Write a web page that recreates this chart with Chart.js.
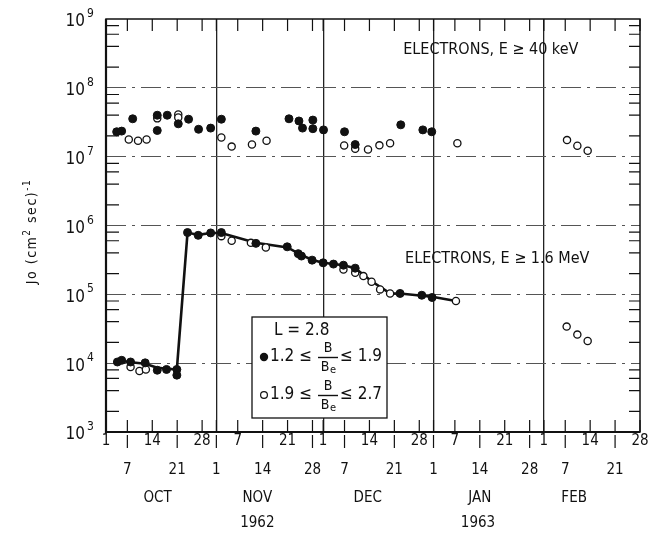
<!DOCTYPE html>
<html>
<head>
<meta charset="utf-8">
<title>Electron flux L=2.8</title>
<script src="https://cdn.jsdelivr.net/npm/chart.js@4.4.1/dist/chart.umd.min.js"></script>
<style>
  html, body { margin: 0; padding: 0; background: #fff; }
  canvas { display: block; }
</style>
</head>
<body>
<canvas id="flux" width="668" height="537"></canvas>
<script>
// x values are days counted from Oct 1 1962 (Oct 1 = 0, Nov 1 = 31, Dec 1 = 61, Jan 1 = 92, Feb 1 = 123)

// ELECTRONS, E >= 40 keV
var hiFilledDays = [3, 4.4, 7.5, 14.4, 14.4, 17.2, 20.3, 23.2, 26, 29.4, 32.4, 42.1, 51.4, 54.2, 55.2, 58.1, 58.1, 61.1, 67, 70, 82.8, 89, 91.5];
var hiFilledFlux = [2.3e7, 2.35e7, 3.55e7, 4.0e7, 2.4e7, 4.0e7, 3.0e7, 3.5e7, 2.5e7, 2.6e7, 3.5e7, 2.35e7, 3.55e7, 3.3e7, 2.6e7, 3.4e7, 2.55e7, 2.45e7, 2.3e7, 1.5e7, 2.9e7, 2.45e7, 2.3e7];
var hiOpenDays = [6.4, 9, 11.4, 14.4, 20.3, 20.3, 32.4, 35.3, 41, 45.1, 66.9, 70, 73.6, 76.8, 79.8, 98.7, 129.5, 132.4, 135.3];
var hiOpenFlux = [1.78e7, 1.7e7, 1.78e7, 3.6e7, 4.1e7, 3.7e7, 1.9e7, 1.4e7, 1.5e7, 1.7e7, 1.45e7, 1.3e7, 1.27e7, 1.46e7, 1.57e7, 1.57e7, 1.74e7, 1.44e7, 1.22e7];

// ELECTRONS, E >= 1.6 MeV
var loFilledDays = [3.2, 4.4, 6.9, 11, 14.4, 17, 19.9, 19.9, 22.9, 25.9, 29.4, 32.4, 42.1, 50.9, 54, 54.9, 57.9, 61, 63.9, 66.7, 70, 82.6, 88.7, 91.6];
var loFilledFlux = [1.04e4, 1.1e4, 1.04e4, 1.01e4, 7.9e3, 8.1e3, 8.1e3, 6.7e3, 7.9e5, 7.2e5, 7.8e5, 7.9e5, 5.5e5, 4.9e5, 3.9e5, 3.6e5, 3.14e5, 2.87e5, 2.75e5, 2.65e5, 2.4e5, 1.03e5, 9.7e4, 9.0e4];
var loOpenDays = [6.9, 9.4, 11.2, 32.4, 35.3, 40.7, 44.9, 66.7, 70, 72.3, 74.6, 77, 79.8, 98.3, 129.4, 132.4, 135.3];
var loOpenFlux = [8.8e3, 7.7e3, 8.1e3, 7.0e5, 6.0e5, 5.6e5, 4.8e5, 2.3e5, 2.06e5, 1.84e5, 1.52e5, 1.18e5, 1.03e5, 8.0e4, 3.4e4, 2.6e4, 2.1e4];

// hand drawn curve through the 1.6 MeV points
var curveDays = [3.2, 4.4, 7, 11, 14.4, 19.9, 22.9, 25.9, 29.4, 32.4, 42, 51, 54.5, 58, 61, 66.7, 70, 74.6, 79.8, 82.6, 91.6, 98.3];
var curveFlux = [1.05e4, 1.08e4, 1.03e4, 9.8e3, 8.6e3, 8.1e3, 7.9e5, 7.3e5, 7.8e5, 7.8e5, 5.6e5, 4.8e5, 3.8e5, 3.15e5, 2.87e5, 2.65e5, 2.4e5, 1.55e5, 1.03e5, 1.03e5, 9.2e4, 8.0e4];

// axis ticks
var tickDays = [0, 6, 13, 20, 27, 31, 37, 44, 51, 58, 61, 67, 74, 81, 88, 92, 98, 105, 112, 119, 123, 129, 136, 143, 150];
var tickText = ['1', '7', '14', '21', '28', '1', '7', '14', '21', '28', '1', '7', '14', '21', '28', '1', '7', '14', '21', '28', '1', '7', '14', '21', '28'];
var monthStarts = [31, 61, 92, 123];
var monthNames = ['OCT', 'NOV', 'DEC', 'JAN', 'FEB'];
var monthLabelDays = [14.5, 42.5, 73.5, 105, 131.5];
var yearNames = ['1962', '1963'];
var yearLabelDays = [42.5, 104.5];
var decades = [1e3, 1e4, 1e5, 1e6, 1e7, 1e8, 1e9];

var FONT = '"DejaVu Sans Condensed", "Liberation Sans Narrow", "DejaVu Sans", sans-serif';

function pairs(xs, ys) {
  return xs.map(function (x, i) { return { x: x, y: ys[i] }; });
}

// draws everything that is not a data mark: frame, inner ticks, labels, notes, key
var decorations = {
  id: 'decorations',
  afterDraw: function (chart) {
    var c = chart.ctx;
    var a = chart.chartArea;
    var xs = chart.scales.x;
    var ys = chart.scales.y;
    c.save();
    c.strokeStyle = '#111';
    c.fillStyle = '#111';

    // inner ticks top and bottom, outer ticks for the second label row
    c.lineWidth = 1.2;
    tickDays.forEach(function (d, i) {
      var px = xs.getPixelForValue(d);
      c.beginPath();
      c.moveTo(px, a.top); c.lineTo(px, a.top + 12);
      c.moveTo(px, a.bottom); c.lineTo(px, a.bottom - 12);
      if (i % 2 === 1) { c.moveTo(px, a.bottom + 3); c.lineTo(px, a.bottom + 16); }
      c.stroke();
    });

    // minor ticks on the log axis
    for (var e = 3; e < 9; e++) {
      [2, 4, 6, 8].forEach(function (m) {
        var py = ys.getPixelForValue(m * Math.pow(10, e));
        c.beginPath();
        c.moveTo(a.left, py); c.lineTo(a.left + 13, py);
        c.moveTo(a.right, py); c.lineTo(a.right - 11, py);
        c.stroke();
      });
    }

    // frame
    c.lineWidth = 1.5;
    c.strokeRect(a.left, a.top, a.right - a.left, a.bottom - a.top);
    c.lineWidth = 2.2;
    c.beginPath();
    c.moveTo(a.left, a.top); c.lineTo(a.left, a.bottom); c.lineTo(a.right, a.bottom);
    c.stroke();

    // y labels 10^n
    decades.forEach(function (v) {
      var py = ys.getPixelForValue(v);
      c.font = '17px ' + FONT;
      c.textAlign = 'right';
      c.textBaseline = 'middle';
      c.fillText('10', a.left - 21, py + 3);
      c.font = '12px ' + FONT;
      c.textAlign = 'left';
      c.fillText(String(Math.round(Math.log10(v))), a.left - 19, py - 5);
    });

    // y title with superscripts
    var parts = [['Jo (cm', 14, 0], ['2', 10, -5], [' sec)', 14, 0], ['-1', 10, -5]];
    c.save();
    c.translate(a.left - 74, (a.top + a.bottom) / 2 + 6);
    c.rotate(-Math.PI / 2);
    c.textBaseline = 'middle';
    c.textAlign = 'left';
    if ('letterSpacing' in c) c.letterSpacing = '1.5px';
    var total = 0;
    parts.forEach(function (p) { c.font = p[1] + 'px ' + FONT; total += c.measureText(p[0]).width; });
    var tx = -total / 2;
    parts.forEach(function (p) {
      c.font = p[1] + 'px ' + FONT;
      c.fillText(p[0], tx, p[2]);
      tx += c.measureText(p[0]).width;
    });
    c.restore();

    // months and years
    c.textAlign = 'center';
    c.textBaseline = 'middle';
    c.font = '15px ' + FONT;
    monthNames.forEach(function (m, i) {
      c.fillText(m, xs.getPixelForValue(monthLabelDays[i]), a.bottom + 66);
    });
    yearNames.forEach(function (y, i) {
      c.fillText(y, xs.getPixelForValue(yearLabelDays[i]), a.bottom + 91);
    });

    // notes
    c.textAlign = 'left';
    c.font = '16px ' + FONT;
    c.fillText('ELECTRONS, E \u2265 40 keV', xs.getPixelForValue(83.5), ys.getPixelForValue(3.6e8));
    c.fillText('ELECTRONS, E \u2265 1.6 MeV', xs.getPixelForValue(84), ys.getPixelForValue(3.25e5));

    // key box
    var bx = a.left + 146, by = a.top + 298, bw = 135, bh = 101;
    c.fillStyle = '#fff';
    c.fillRect(bx, by, bw, bh);
    c.lineWidth = 1.3;
    c.strokeRect(bx, by, bw, bh);
    c.fillStyle = '#111';
    c.font = '17px ' + FONT;
    c.fillText('L = 2.8', bx + 22, by + 14);

    function keyRow(cy, filled, lo, hi) {
      c.beginPath();
      c.arc(bx + 12, cy, filled ? 4.2 : 3.4, 0, Math.PI * 2);
      if (filled) { c.fillStyle = '#111'; c.fill(); }
      else { c.lineWidth = 1.2; c.stroke(); }
      c.fillStyle = '#111';
      c.textAlign = 'left';
      c.font = '17px ' + FONT;
      c.fillText(lo + ' \u2264', bx + 18, cy);
      var fx = bx + 76;
      c.textAlign = 'center';
      c.font = '14px ' + FONT;
      c.fillText('B', fx, cy - 9);
      c.fillText('B', fx - 3, cy + 10);
      c.font = '11px ' + FONT;
      c.fillText('e', fx + 5, cy + 13);
      c.lineWidth = 1.4;
      c.beginPath();
      c.moveTo(fx - 10, cy + 0.5); c.lineTo(fx + 10, cy + 0.5);
      c.stroke();
      c.textAlign = 'left';
      c.font = '17px ' + FONT;
      c.fillText('\u2264 ' + hi, bx + 88, cy);
    }
    keyRow(by + 40, true, '1.2', '1.9');
    keyRow(by + 78, false, '1.9', '2.7');

    c.restore();
  }
};

var ctx = document.getElementById('flux').getContext('2d');
var chart = new Chart(ctx, {
  type: 'scatter',
  data: {
    datasets: [
      {
        label: '40 keV, 1.2-1.9',
        data: pairs(hiFilledDays, hiFilledFlux),
        pointRadius: 4, backgroundColor: '#111', borderColor: '#111', borderWidth: 1
      },
      {
        label: '40 keV, 1.9-2.7',
        data: pairs(hiOpenDays, hiOpenFlux),
        pointRadius: 3.6, backgroundColor: '#fff', borderColor: '#111', borderWidth: 1.3
      },
      {
        label: '1.6 MeV, 1.2-1.9',
        data: pairs(loFilledDays, loFilledFlux),
        pointRadius: 4, backgroundColor: '#111', borderColor: '#111', borderWidth: 1
      },
      {
        label: '1.6 MeV, 1.9-2.7',
        data: pairs(loOpenDays, loOpenFlux),
        pointRadius: 3.6, backgroundColor: '#fff', borderColor: '#111', borderWidth: 1.3
      },
      {
        label: 'curve',
        data: pairs(curveDays, curveFlux),
        showLine: true, pointRadius: 0, borderColor: '#111', borderWidth: 2.6, tension: 0
      }
    ]
  },
  options: {
    responsive: false,
    animation: false,
    layout: { padding: { top: 19, right: 28, left: 0, bottom: 0 } },
    plugins: { legend: { display: false }, tooltip: { enabled: false } },
    scales: {
      x: {
        type: 'linear',
        min: 0,
        max: 150,
        afterBuildTicks: function (s) { s.ticks = tickDays.map(function (v) { return { value: v }; }); },
        afterFit: function (s) { s.height = 105; },
        ticks: {
          autoSkip: false,
          maxRotation: 0,
          padding: -5,
          color: '#111',
          font: { family: FONT, size: 15, lineHeight: '29px' },
          callback: function (v, i) { return i % 2 === 0 ? [tickText[i], ''] : ['', tickText[i]]; }
        },
        grid: {
          drawTicks: false,
          lineWidth: 1.3,
          color: function (c) { return c.tick && monthStarts.indexOf(c.tick.value) >= 0 ? '#222' : 'rgba(0,0,0,0)'; }
        },
        border: { display: false }
      },
      y: {
        type: 'logarithmic',
        min: 1e3,
        max: 1e9,
        afterBuildTicks: function (s) { s.ticks = decades.map(function (v) { return { value: v }; }); },
        afterFit: function (s) { s.width = 106; },
        ticks: { display: false },
        grid: {
          drawTicks: false,
          lineWidth: 1,
          color: function (c) { return c.tick && (c.tick.value === 1e3 || c.tick.value === 1e9) ? 'rgba(0,0,0,0)' : '#555'; }
        },
        border: { display: false, dash: [20, 6, 3, 6] }
      }
    }
  },
  plugins: [decorations]
});
</script>
</body>
</html>
